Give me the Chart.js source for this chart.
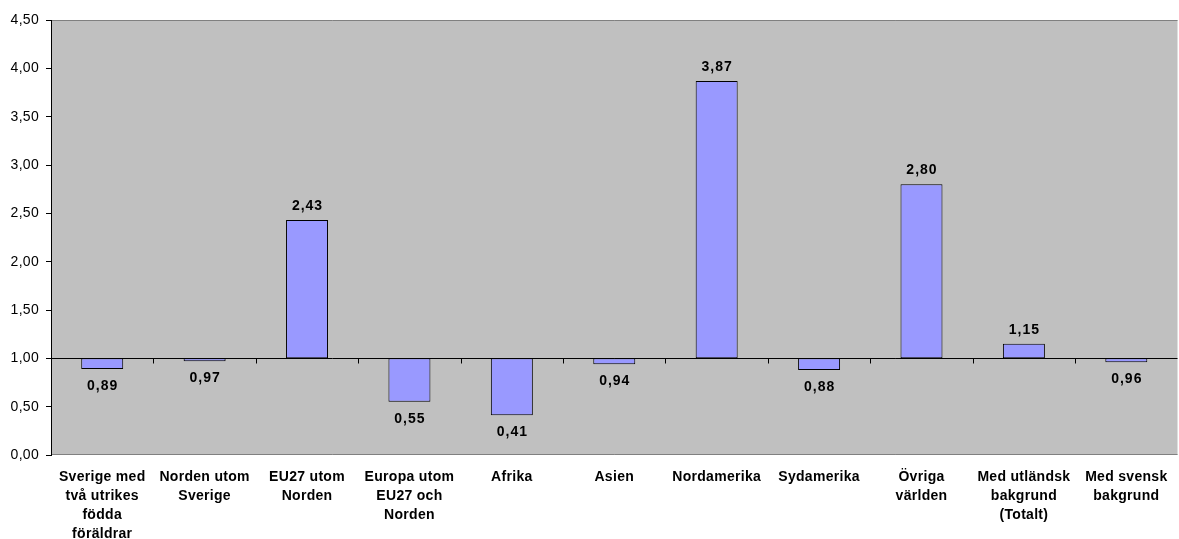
<!DOCTYPE html>
<html>
<head>
    <title>Kvot per bakgrund</title>
    <script src="https://cdn.jsdelivr.net/npm/chart.js"></script>
    <style>
        html, body { margin: 0; padding: 0; background: #fff; }
        #wrap { width: 1179px; height: 539px; }
    </style>
</head>
<body>
<div id="wrap"><canvas id="ratioChart"></canvas></div>
<script>
const categories = [
    ['Sverige med', 'två utrikes', 'födda', 'föräldrar'],
    ['Norden utom', 'Sverige'],
    ['EU27 utom', 'Norden'],
    ['Europa utom', 'EU27 och', 'Norden'],
    ['Afrika'],
    ['Asien'],
    ['Nordamerika'],
    ['Sydamerika'],
    ['Övriga', 'världen'],
    ['Med utländsk', 'bakgrund', '(Totalt)'],
    ['Med svensk', 'bakgrund']
];
const values = [0.89, 0.97, 2.43, 0.55, 0.41, 0.94, 3.87, 0.88, 2.80, 1.15, 0.96];
const baseline = 1.0;
const yTicks = [0, 0.5, 1, 1.5, 2, 2.5, 3, 3.5, 4, 4.5];

const fmt = v => v.toFixed(2).replace('.', ',');
const FONT = '"Liberation Sans", Arial, sans-serif';

// grey plot area, drawn behind everything
const plotArea = {
    id: 'plotArea',
    beforeDraw(chart) {
        const { ctx, chartArea: a } = chart;
        ctx.letterSpacing = '0.3px'; // the original text is drawn a bit wide
        ctx.save();
        ctx.fillStyle = '#C0C0C0';
        ctx.fillRect(a.left, a.top, a.right - a.left, a.bottom - a.top);
        ctx.strokeStyle = '#808080';
        ctx.lineWidth = 1;
        ctx.beginPath();
        ctx.moveTo(a.left, a.top + 0.5);
        ctx.lineTo(a.right, a.top + 0.5);
        ctx.moveTo(a.left, a.bottom - 0.5);
        ctx.lineTo(a.right, a.bottom - 0.5);
        ctx.stroke();
        ctx.restore();
    }
};

// category axis crossing at 1,00 with ticks between categories + value labels
const crossAxis = {
    id: 'crossAxis',
    afterDatasetsDraw(chart) {
        const { ctx, chartArea: a, scales } = chart;
        const y = Math.round(scales.y.getPixelForValue(baseline)) + 0.5;
        ctx.save();
        ctx.strokeStyle = '#000';
        ctx.lineWidth = 1;
        ctx.beginPath();
        ctx.moveTo(a.left, y);
        ctx.lineTo(a.right, y);
        for (let i = 1; i < values.length; i++) {
            const x = Math.round((scales.x.getPixelForValue(i - 1) + scales.x.getPixelForValue(i)) / 2) + 0.5;
            ctx.moveTo(x, y);
            ctx.lineTo(x, y + 5);
        }
        ctx.stroke();

        ctx.fillStyle = '#000';
        ctx.font = 'bold 14px ' + FONT;
        ctx.letterSpacing = '1px';
        ctx.textAlign = 'center';
        ctx.textBaseline = 'middle';
        values.forEach((v, i) => {
            const x = scales.x.getPixelForValue(i) + 0.5;
            const yv = scales.y.getPixelForValue(v);
            const ly = v >= baseline ? yv - 14 : yv + 17;
            ctx.fillText(fmt(v), x, ly);
        });
        ctx.restore();
    }
};

const ctx = document.getElementById('ratioChart').getContext('2d');
new Chart(ctx, {
    type: 'bar',
    data: {
        labels: categories,
        datasets: [{
            data: values.map(v => [baseline, v]),
            backgroundColor: '#9999FF',
            borderColor: '#000000',
            borderWidth: 1,
            borderSkipped: false,
            barPercentage: 0.41,
            categoryPercentage: 1.0
        }]
    },
    options: {
        responsive: true,
        maintainAspectRatio: false,
        animation: false,
        layout: { padding: { top: 20, right: 0, left: 0, bottom: 0 } },
        plugins: {
            legend: { display: false },
            tooltip: { enabled: false }
        },
        scales: {
            x: {
                grid: { display: false, drawTicks: false },
                border: { display: false },
                ticks: {
                    color: '#000',
                    maxRotation: 0,
                    autoSkip: false,
                    padding: 13,
                    font: { family: FONT, size: 14, weight: 'bold', lineHeight: 1.36 }
                },
                afterFit(scale) { scale.height = 84; }
            },
            y: {
                min: 0,
                max: 4.5,
                afterBuildTicks(scale) { scale.ticks = yTicks.map(v => ({ value: v })); },
                grid: { drawOnChartArea: false, drawTicks: true, tickLength: 5, color: '#000' },
                border: { display: true, color: '#000' },
                ticks: {
                    color: '#000',
                    padding: 7,
                    font: { family: FONT, size: 14 },
                    callback: v => fmt(v)
                },
                afterFit(scale) { scale.width = 51; }
            }
        }
    },
    plugins: [plotArea, crossAxis]
});
</script>
</body>
</html>
